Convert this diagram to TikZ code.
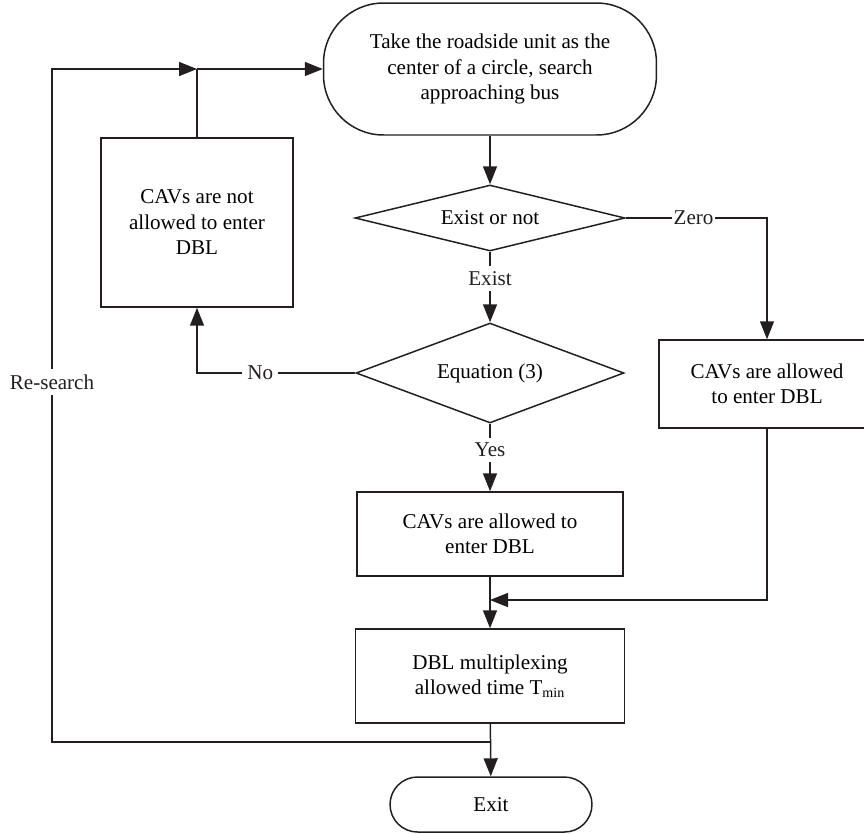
\documentclass[tikz,border=0pt]{standalone}
\usepackage{fontspec}
\setmainfont{Liberation Serif}
\usetikzlibrary{arrows.meta,shapes.geometric}
\definecolor{strich}{HTML}{231F20}
\tikzset{
  linie/.style={strich,line width=0.85pt},
  pfeil/.style={-{Triangle[length=3.6mm,width=2.8mm]},strich,line width=0.85pt},
  kasten/.style={draw=strich,line width=0.85pt,rectangle,align=center,inner sep=0pt,font=\fontsize{12}{14.5}\selectfont},
  raute/.style={draw=strich,line width=0.85pt,diamond,aspect=4,inner sep=0pt,font=\fontsize{12}{14.5}\selectfont},
  rund/.style={kasten,rounded corners=#1},
  marke/.style={fill=white,inner sep=3pt,font=\fontsize{12}{14.5}\selectfont},
}

\begin{document}
\begin{tikzpicture}[x=0.02cm,y=-0.02cm]
  \clip (0,0) rectangle (864,833);
  % Kaesten
  \node[rund=1.2cm,minimum width=6.66cm,minimum height=2.64cm] (start) at (490,69) {Take the roadside unit as the\\center of a circle, search\\approaching bus};
  \node[raute,minimum width=5.4cm,minimum height=1.32cm] (exist) at (490,218) {Exist or not};
  \node[raute,minimum width=5.36cm,minimum height=2cm] (gl) at (490,373) {Equation (3)};
  \node[kasten,minimum width=3.84cm,minimum height=3.38cm] (nein) at (197,222.5) {CAVs are not\\allowed to enter\\DBL};
  \node[kasten,minimum width=5.32cm,minimum height=1.68cm] (ja) at (490,534) {CAVs are allowed to\\enter DBL};
  \node[kasten,minimum width=4.32cm,minimum height=1.76cm] (zero) at (767,384) {CAVs are allowed\\to enter DBL};
  \node[kasten,minimum width=5.38cm,minimum height=1.88cm] (tmin) at (490,676) {DBL multiplexing\\allowed time T\textsubscript{min}};
  \node[rund=0.55cm,minimum width=4.04cm,minimum height=1.1cm] (exit) at (491,804.5) {Exit};
  % Hilfspunkte
  \coordinate (oben) at (197,69);
  \coordinate (links) at (52,69);
  \coordinate (ecke) at (52,742);
  \coordinate (abzw) at (490,742);
  \coordinate (merge) at (490,600);
  % Verbindungen
  \draw[pfeil] (start) -- (exist);
  \draw[pfeil] (exist) -- node[marke,pos=0.38] {Exist} (gl);
  \draw[pfeil] (gl) -- node[marke,pos=0.39] {Yes} (ja);
  \draw[pfeil] (ja) -- (tmin);
  \draw[pfeil] (tmin) -- (exit);
  \draw[pfeil] (exist.east) -| node[marke,inner sep=1pt,pos=0.24] {Zero} (zero);
  \draw[pfeil] (zero) |- (merge);
  \draw[pfeil] (gl.west) -| node[marke,pos=0.30] {No} (nein);
  \draw[linie] (nein) -- (oben);
  \draw[pfeil] (oben) -- (start);
  \draw[pfeil] (abzw) -- (ecke) -- node[marke,pos=0.535] {Re-search} (links) -- (oben);
\end{tikzpicture}
\end{document}
